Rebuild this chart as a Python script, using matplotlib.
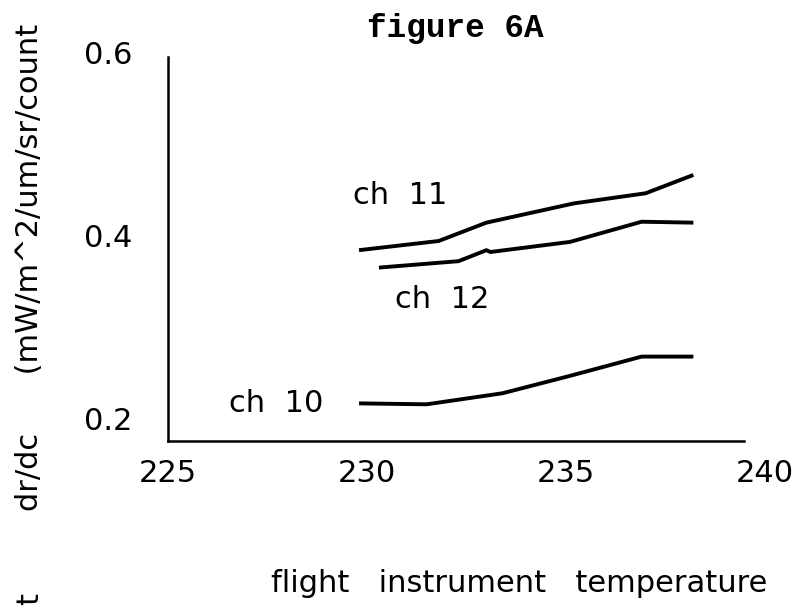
import matplotlib
matplotlib.use("Agg")
import matplotlib.pyplot as plt

# flight instrument temperature vs dr/dc
ch11_temp = [229.8, 231.8, 233.0, 235.2, 237.0, 238.2]
ch11_drdc = [0.384, 0.394, 0.414, 0.435, 0.446, 0.466]

ch12_temp = [230.3, 232.3, 233.0, 233.1, 235.1, 236.9, 238.2]
ch12_drdc = [0.365, 0.372, 0.384, 0.382, 0.393, 0.415, 0.414]

ch10_temp = [229.8, 231.5, 233.4, 235.1, 236.9, 238.2]
ch10_drdc = [0.217, 0.216, 0.228, 0.247, 0.268, 0.268]

x_ticks = [225, 230, 235, 240]
y_ticks = [0.2, 0.4, 0.6]

plt.rcParams["font.family"] = ["DejaVu Sans"]
FS = 22

W, H = 799, 607
fig = plt.figure(figsize=(W / 100, H / 100), dpi=100)
ax = fig.add_axes([168 / W, 1 - 441 / H, 597 / W, 389 / H])

lw = 2.8
for t, v in [(ch11_temp, ch11_drdc), (ch12_temp, ch12_drdc), (ch10_temp, ch10_drdc)]:
    ax.plot(t, v, color="black", lw=lw, solid_capstyle="butt", solid_joinstyle="round")

ax.set_xlim(225, 240)
ax.set_ylim(0.176, 0.6)
ax.spines["top"].set_visible(False)
ax.spines["right"].set_visible(False)
for s in ("left", "bottom"):
    ax.spines[s].set_linewidth(1.8)
ax.spines["bottom"].set_bounds(225, 239.47)
ax.spines["left"].set_bounds(0.176, 0.5945)

ax.set_xticks(x_ticks)
ax.set_xticklabels([str(v) for v in x_ticks])
ax.set_yticks(y_ticks)
ax.set_yticklabels([f"{v:.1f}" for v in y_ticks])
ax.tick_params(length=0, labelsize=FS)
ax.tick_params(axis="x", pad=13)
ax.tick_params(axis="y", pad=26)

ax.text(230.83, 0.444, "ch  11", fontsize=FS, ha="center", va="center")
ax.text(231.88, 0.330, "ch  12", fontsize=FS, ha="center", va="center")
ax.text(227.71, 0.2174, "ch  10", fontsize=FS, ha="center", va="center")

fig.text(455 / W, 1 - 28 / H, "figure 6A", family="Liberation Mono",
         weight="bold", fontsize=23.5, ha="center", va="center")

fig.text(30 / W, 1 - 511 / H, "dr/dc      (mW/m^2/um/sr/count", rotation=90,
         fontsize=FS, ha="center", va="bottom")
fig.text(30 / W, 1 - 599 / H, "t", rotation=90, fontsize=FS,
         ha="center", va="center")
fig.text(519 / W, 1 - 583 / H, "flight   instrument   temperature",
         fontsize=FS, ha="center", va="center")

fig.savefig("out.png", dpi=100)
